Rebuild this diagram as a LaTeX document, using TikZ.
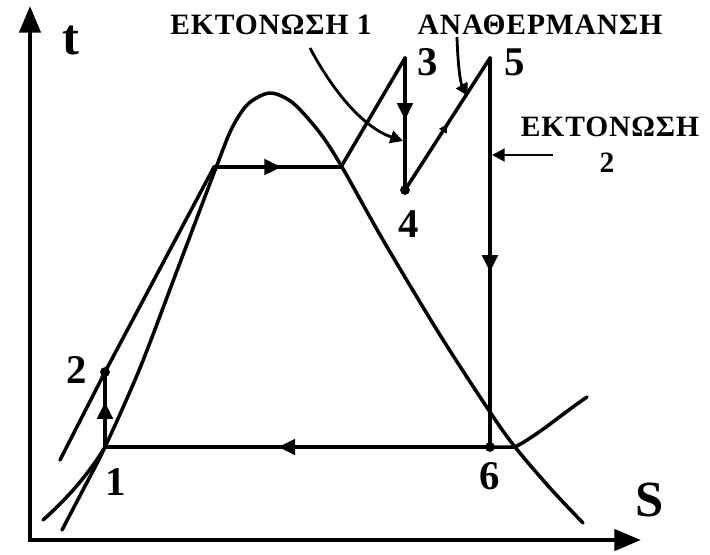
\documentclass[tikz,border=0pt]{standalone}
\usepackage{fontspec}
\setmainfont{Liberation Serif}
\newfontfamily\grfont[LetterSpace=3]{Liberation Serif}
\usetikzlibrary{positioning,arrows.meta,decorations.markings}

\begin{document}
\begin{tikzpicture}[x=0.025cm, y=-0.025cm,
    every node/.style={font=\bfseries},
    num/.style={font=\fontsize{29}{31}\selectfont\bfseries, inner sep=0pt},
    axlabel/.style={font=\fontsize{36}{38}\selectfont\bfseries, inner sep=0pt},
    word/.style={font=\grfont\fontsize{21}{23}\selectfont\bfseries, inner sep=0pt},
    dot/.style={circle, fill, inner sep=0pt, minimum size=7pt},
    e/.style={draw, line width=2.5pt, line cap=round, line join=round},
    ax/.style={draw, line width=3pt, -{Triangle[length=19pt,width=15pt]}},
    ptr/.style={draw, line width=2pt, -{Triangle[length=9pt,width=9pt]}},
    mid/.style={postaction={decorate}, decoration={markings,
      mark=at position #1 with {\arrow{Triangle[length=12pt,width=11pt]}}}},
    tick/.style={postaction={decorate}, decoration={markings,
      mark=at position #1 with {\arrow{Triangle[length=6pt,width=6pt]}}}}]
  \useasboundingbox (0,0) rectangle (710,554);
  % axes
  \coordinate (O) at (30,540);
  \coordinate (tEnd) at (30,6);
  \coordinate (sEnd) at (641,540);
  \draw[ax, line cap=rect] (O) -- (tEnd);
  \draw[ax, line cap=rect] (O) -- (sEnd);
  \node[axlabel] (tlab) at (71,40) {t};
  \node[axlabel] (slab) at (650,500) {S};
  % saturation dome
  \draw[e] plot[smooth, tension=0.5] coordinates {(62,530) (84,488) (105,447)
    (140,368) (178,268) (217,165) (232,128) (248,104) (270,93)
    (293,103) (320,133) (342,167) (383,240) (440,335) (490,412) (515,447)
    (550,488) (583,523)};
  % state points
  \coordinate (p1) at (105,447);
  \node[dot] (p2) at (105,372) {};
  \coordinate (p3) at (405,58);
  \node[dot] (p4) at (405,190) {};
  \coordinate (p5) at (490,58);
  \node[dot] (p6) at (490,447) {};
  \coordinate (fA) at (214,167);
  \coordinate (fB) at (341,167);
  \coordinate (gB) at (515,447);
  \coordinate (hLow) at (60,460);
  \coordinate (lLow) at (43,520);
  \coordinate (lHigh) at (587,397);
  % isobars
  \draw[e] (lLow) .. controls (68,498) and (90,472) .. (p1);
  \draw[e] (p6.center) -- (gB) .. controls (538,435) and (562,414) .. (lHigh);
  \draw[e] (hLow) -- (p2.center) -- (fA);
  % cycle
  \draw[e, mid=0.6] (p1) -- (p2.center);
  \draw[e, mid=0.53] (fA) -- (fB);
  \draw[e] (fB) -- (p3);
  \draw[e, mid=0.47] (p3) -- (p4.center);
  \draw[e, tick=0.5] (p4.center) -- (p5);
  \draw[e, mid=0.55] (p5) -- (p6.center);
  \draw[e, mid=0.55] (p6.center) -- (p1);
  % labels
  \node[num] (l1) at (116,482) {1};
  \node[num] (l2) at (77,370) {2};
  \node[num] (l3) at (428,62) {3};
  \node[num] (l4) at (409,224) {4};
  \node[num] (l5) at (515,62) {5};
  \node[num] (l6) at (490,476) {6};
  % process names
  \node[word] (exp1) at (271,25) {ΕΚΤΟΝΩΣΗ 1};
  \node[word] (reheat) at (540,25) {ΑΝΑΘΕΡΜΑΝΣΗ};
  \node[word] (exp2) at (610,127) {ΕΚΤΟΝΩΣΗ};
  \node[word] (exp2n) at (607,163) {2};
  \coordinate (a1) at (310,48);
  \coordinate (b1) at (403,141);
  \coordinate (a2) at (457,37);
  \coordinate (b2) at (468,96);
  \coordinate (a3) at (553,155);
  \coordinate (b3) at (492,155);
  \draw[ptr] (a1) .. controls (335,95) and (365,128) .. (b1);
  \draw[ptr] (a2) .. controls (458,70) and (461,84) .. (b2);
  \draw[ptr] (a3) -- (b3);
\end{tikzpicture}
\end{document}
